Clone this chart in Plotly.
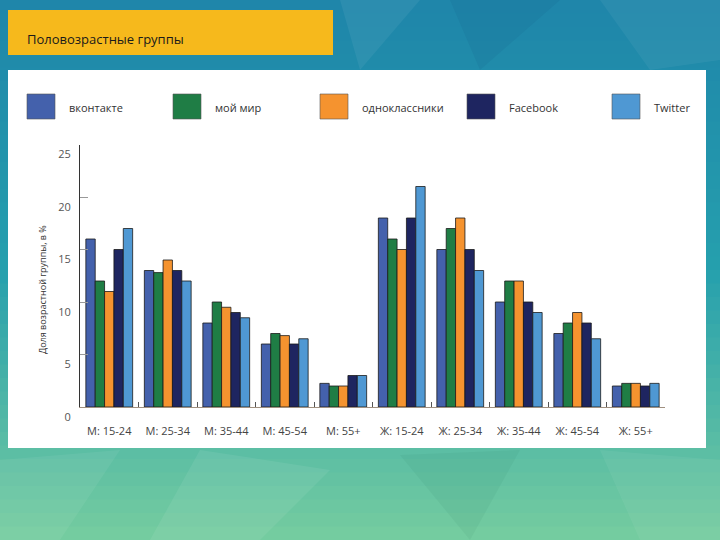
import plotly.graph_objects as go

categories = ["М: 15-24", "М: 25-34", "М: 35-44", "М: 45-54", "М: 55+",
              "Ж: 15-24", "Ж: 25-34", "Ж: 35-44", "Ж: 45-54", "Ж: 55+"]
series_names = ["вконтакте", "мой мир", "одноклассники", "Facebook", "Twitter"]
vkontakte = [16.0, 13.0, 8.0, 6.0, 2.25, 18.0, 15.0, 10.0, 7.0, 2.0]
moy_mir = [12.0, 12.8, 10.0, 7.0, 2.0, 16.0, 17.0, 12.0, 8.0, 2.25]
odnoklassniki = [11.0, 14.0, 9.5, 6.8, 2.0, 15.0, 18.0, 12.0, 9.0, 2.25]
facebook = [15.0, 13.0, 9.0, 6.0, 3.0, 18.0, 15.0, 10.0, 8.0, 2.0]
twitter = [17.0, 12.0, 8.5, 6.5, 3.0, 21.0, 13.0, 9.0, 6.5, 2.25]
y_ticks = [0, 5, 10, 15, 20, 25]
title_text = "Половозрастные группы"
y_title = "Доля возрастной группы, в %"

series_values = [vkontakte, moy_mir, odnoklassniki, facebook, twitter]
colors = ["#4461AC", "#1F7D45", "#F5932F", "#1E2560", "#4F98D3"]

W, H = 720, 540


def px(x):
    return x / W


def py(y):
    return 1 - y / H


fig = go.Figure()
for name, vals, col in zip(series_names, series_values, colors):
    fig.add_trace(go.Bar(
        x=categories, y=vals, name=name,
        marker=dict(color=col, line=dict(color="#1a1a1a", width=0.8)),
        showlegend=False,
    ))

shapes = []
# background gradient bands
top = (0x1F, 0x86, 0xAA)
mid = (0x26, 0xA0, 0xAE)
bot = (0x74, 0xCC, 0xA0)
n = 40
for i in range(n):
    t = i / (n - 1)
    if t < 0.5:
        u = t / 0.5
        c = tuple(int(top[k] + (mid[k] - top[k]) * u) for k in range(3))
    else:
        u = (t - 0.5) / 0.5
        c = tuple(int(mid[k] + (bot[k] - mid[k]) * u) for k in range(3))
    shapes.append(dict(type="rect", xref="paper", yref="paper", layer="below",
                       x0=0, x1=1, y0=max(0, py(H * (i + 1) / n + 1)), y1=py(H * i / n),
                       fillcolor="rgb(%d,%d,%d)" % c, line=dict(width=0)))
# some faceted texture
facets = [
    ("M 340 0 L 420 0 L 360 70 Z", "rgba(255,255,255,0.06)"),
    ("M 450 0 L 560 0 L 480 70 Z", "rgba(0,40,80,0.06)"),
    ("M 600 0 L 720 0 L 720 60 L 650 70 Z", "rgba(255,255,255,0.05)"),
    ("M 0 460 L 120 450 L 60 540 L 0 540 Z", "rgba(255,255,255,0.06)"),
    ("M 200 450 L 330 470 L 260 540 L 150 540 Z", "rgba(255,255,255,0.07)"),
    ("M 400 455 L 520 450 L 470 540 Z", "rgba(0,80,60,0.05)"),
    ("M 600 450 L 720 460 L 720 540 L 640 540 Z", "rgba(255,255,255,0.05)"),
]
for path, col in facets:
    parts = path.split()
    out = []
    i = 0
    while i < len(parts):
        p = parts[i]
        if p in ("M", "L"):
            x = float(parts[i + 1]); y = float(parts[i + 2])
            out.append("%s %.5f %.5f" % (p, px(x), py(y)))
            i += 3
        else:
            out.append(p)
            i += 1
    shapes.append(dict(type="path", xref="paper", yref="paper", layer="below",
                       path=" ".join(out), fillcolor=col, line=dict(width=0)))
# white panel
shapes.append(dict(type="rect", xref="paper", yref="paper", layer="below",
                   x0=px(8), x1=px(706), y0=py(448), y1=py(70),
                   fillcolor="white", line=dict(width=0)))
# title box
shapes.append(dict(type="rect", xref="paper", yref="paper", layer="below",
                   x0=px(8), x1=px(333), y0=py(55), y1=py(10),
                   fillcolor="#F6B91C", line=dict(width=0)))

annotations = [dict(text=title_text, x=px(25), y=py(39), xref="paper", yref="paper",
                    xanchor="left", yanchor="middle", showarrow=False,
                    font=dict(family="Open Sans", size=13, color="#1a1a1a"))]
annotations.append(dict(text=y_title, x=px(42), y=py(290), xref="paper", yref="paper",
                        textangle=-90, showarrow=False, xanchor="center", yanchor="middle",
                        font=dict(family="Open Sans", size=9, color="#333")))

# legend
sw_x = [27, 173, 320, 467, 612]
for name, col, x0 in zip(series_names, colors, sw_x):
    shapes.append(dict(type="rect", xref="paper", yref="paper",
                       x0=px(x0), x1=px(x0 + 28), y0=py(119), y1=py(94),
                       fillcolor=col, line=dict(color="#555", width=0.6)))
    annotations.append(dict(text=name, x=px(x0 + 40), y=py(107), xref="paper", yref="paper",
                            xanchor="left", yanchor="middle", showarrow=False,
                            font=dict(family="Open Sans", size=11, color="#333")))

fig.update_layout(
    width=W, height=H, autosize=False,
    margin=dict(l=0, r=0, t=0, b=0, pad=0),
    paper_bgcolor="#2A9AAE", plot_bgcolor="rgba(0,0,0,0)",
    barmode="group", bargap=0.2, bargroupgap=0,
    shapes=shapes, annotations=annotations,
    xaxis=dict(domain=[px(80), px(665)], showgrid=False, showline=True, automargin=False,
               linecolor="#A09080", linewidth=1, ticks="inside", tickson="boundaries",
               ticklen=5, tickcolor="#555", ticklabelstandoff=14,
               tickfont=dict(family="Open Sans", size=11, color="#444"),
               range=[-0.5, 9.5]),
    yaxis=dict(domain=[py(407), py(144.5)], range=[0, 25], tickvals=y_ticks,
               showgrid=False, showline=True, linecolor="#333", linewidth=1, automargin=False,
               ticks="inside", ticklen=8, tickcolor="#999", ticklabelshift=10,
               ticklabelstandoff=6, zeroline=False,
               tickfont=dict(family="Open Sans", size=11, color="#555")),
)

fig.write_html("out.html", config={"displayModeBar": False},
               post_script="document.body.style.margin='0';")
